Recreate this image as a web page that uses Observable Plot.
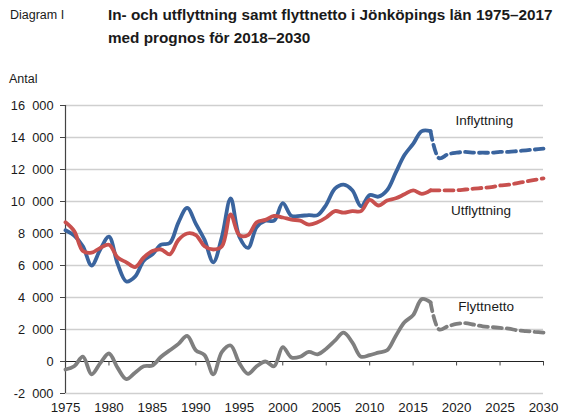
<!DOCTYPE html>
<html>
<head>
<meta charset="utf-8">
<script src="https://cdn.jsdelivr.net/npm/d3@7"></script>
<script src="https://cdn.jsdelivr.net/npm/@observablehq/plot@0.6"></script>
<style>
  html, body { margin: 0; padding: 0; background: #fff; }
  body { width: 561px; height: 416px; position: relative; overflow: hidden; font-family: "Liberation Sans", Arial, sans-serif; color: #1a1a1a; }
  .t { position: absolute; white-space: nowrap; }
  #diag { left: 10px; top: 8px; font-size: 12.5px; }
  #title { left: 108px; top: 3px; font-size: 15.3px; font-weight: bold; line-height: 23px; }
  #antal { left: 9px; top: 72px; font-size: 12.5px; }
  #chart { position: absolute; left: 0; top: 0; }
</style>
</head>
<body>
<div id="chart"></div>
<div class="t" id="diag">Diagram I</div>
<div class="t" id="title">In- och utflyttning samt flyttnetto i Jönköpings län 1975–2017<br>med prognos för 2018–2030</div>
<div class="t" id="antal">Antal</div>
<script>
const years = d3.range(1975, 2031);
const lastObserved = 2017;
const inflyttning = [
  8200, 7870, 7200, 6000, 7000, 7800, 6100, 5000, 5300, 6300,
  6700, 7300, 7400, 8700, 9600, 8600, 7600, 6200, 7800, 10200,
  7800, 7100, 8400, 8800, 8800, 9900, 9100, 9100, 9150, 9150,
  9800, 10800, 11050, 10700, 9700, 10400, 10300, 10700, 11800, 12900,
  13600, 14400, 14400, 12700, 12950, 13050, 13100, 13050, 13050, 13050,
  13100, 13100, 13150, 13200, 13250, 13300
];
const utflyttning = [
  8700, 8150, 6900, 6800, 7100, 7300, 6500, 6200, 5900, 6500,
  6900, 7000, 6700, 7600, 8000, 7900, 7200, 7000, 7200, 9200,
  7900, 7900, 8700, 8850, 9100, 9000, 8870, 8800, 8550, 8700,
  9000, 9400, 9300, 9400, 9400, 10100, 9750, 10060, 10200, 10450,
  10700, 10480, 10700, 10700, 10700, 10700, 10750, 10800, 10850, 10900,
  11000, 11050, 11150, 11250, 11350, 11450
];
const flyttnetto = [
  -500, -300, 300, -800, -100, 500, -400, -1100, -700, -300,
  -250, 300, 700, 1100, 1600, 700, 400, -800, 600, 1000,
  -100, -770, -300, 0, -300, 900, 250, 300, 600, 450,
  800, 1300, 1800, 1200, 300, 400, 550, 700, 1600, 2450,
  2900, 3900, 3700, 2000, 2200, 2350, 2400, 2300, 2200, 2150,
  2100, 2050, 1950, 1900, 1850, 1800
];
const seriesNames = ["Inflyttning", "Utflyttning", "Flyttnetto"];
const seriesColors = ["#3a649e", "#c8504e", "#7f7f7f"];
const xTicks = d3.range(1975, 2031, 5);
const yTicks = d3.range(-2000, 16001, 2000);
const labelYears = [2023.2, 2022.8, 2023.4];
const labelValues = [15050, 9450, 3400];

const allValues = [inflyttning, utflyttning, flyttnetto];
const rows = [];
allValues.forEach((vals, si) => {
  years.forEach((yr, i) => rows.push({year: yr, value: vals[i], series: seriesNames[si]}));
});
const observed = rows.filter(d => d.year <= lastObserved);
const forecast = rows.filter(d => d.year >= lastObserved);
const labels = seriesNames.map((s, i) => ({series: s, year: labelYears[i], value: labelValues[i]}));

const fmt = v => (v < 0 ? "-" : "") + String(Math.abs(v)).replace(/\B(?=(\d{3})+(?!\d))/g, "\u2007");

const chart = Plot.plot({
  width: 561,
  height: 416,
  marginLeft: 65,
  marginRight: 18,
  marginTop: 105,
  marginBottom: 23,
  style: {fontFamily: "'Liberation Sans', Arial, sans-serif", fontSize: "13px", color: "#1a1a1a", background: "transparent"},
  x: {domain: [1975, 2030]},
  y: {domain: [-2000, 16000]},
  color: {domain: seriesNames, range: seriesColors},
  marks: [
    Plot.gridY(yTicks.filter(v => v !== 0), {stroke: "#cfcfcf", strokeOpacity: 1, strokeWidth: 1.5}),
    Plot.axisY({ticks: yTicks, tickFormat: fmt, tickSize: 5, tickPadding: 7, label: null, fontSize: 12.8, stroke: "#444"}),
    Plot.axisX({ticks: xTicks, tickFormat: d => String(d), tickSize: 0, tickPadding: 9, label: null, fontSize: 13.3}),
    Plot.ruleY([0], {stroke: "#222", strokeWidth: 1}),
    Plot.ruleX(xTicks, {x: d => d, y1: 0, y2: -280, stroke: "#444", strokeWidth: 1}),
    Plot.ruleX([1975], {stroke: "#444", strokeWidth: 1.2}),
    Plot.line(observed, {x: "year", y: "value", z: "series", stroke: "series", strokeWidth: 3.8, curve: "catmull-rom"}),
    Plot.line(forecast, {x: "year", y: "value", z: "series", stroke: "series", strokeWidth: 3.8, curve: "catmull-rom", strokeDasharray: "9,5"}),
    Plot.text(labels, {x: "year", y: "value", text: "series", fontSize: 13.5, fill: "#1a1a1a"})
  ]
});
document.getElementById("chart").appendChild(chart);
</script>
</body>
</html>
